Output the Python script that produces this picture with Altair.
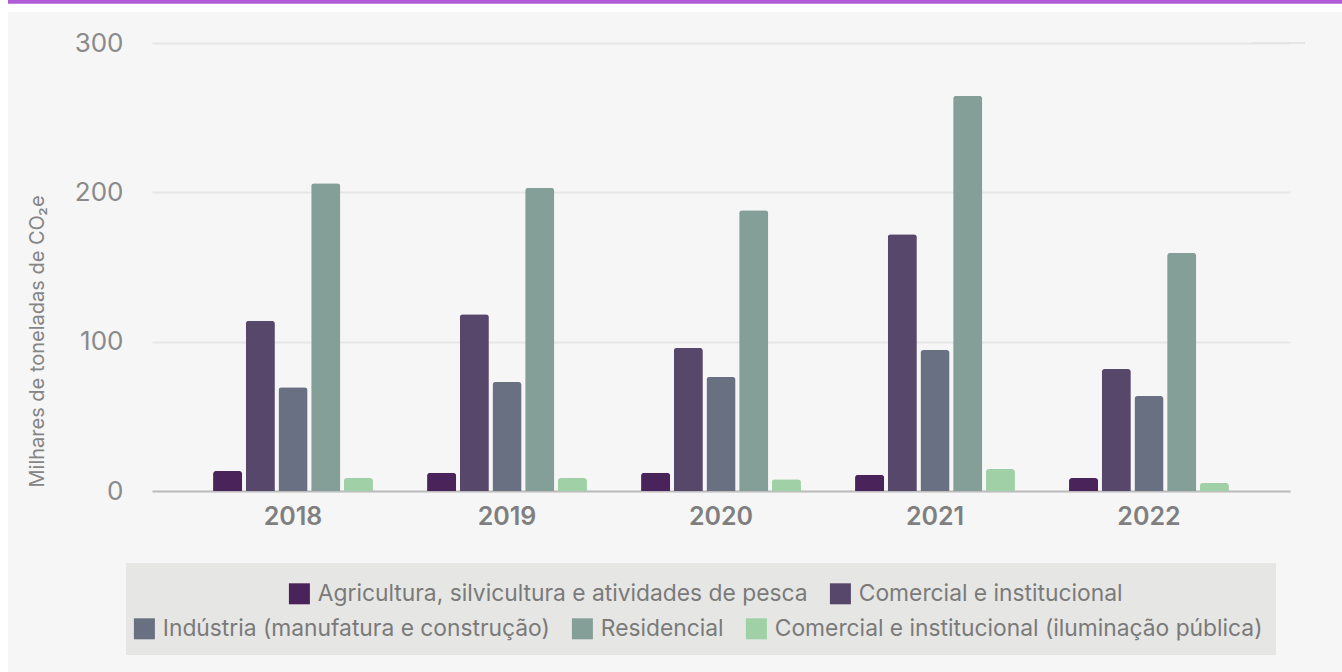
import altair as alt
import pandas as pd

years = ["2018", "2019", "2020", "2021", "2022"]
categories = [
    "Agricultura, silvicultura e atividades de pesca",
    "Comercial e institucional",
    "Indústria (manufatura e construção)",
    "Residencial",
    "Comercial e institucional (iluminação pública)",
]
colors = ["#4A235A", "#56476B", "#687082", "#849F97", "#A0D1A6"]
agricultura = [13.4, 12.3, 12.3, 10.9, 8.7]
comercial = [114, 118.3, 95.8, 172, 81.7]
industria = [69.4, 73, 76.4, 94.4, 63.6]
residencial = [206, 203, 188, 264.6, 159.4]
iluminacao = [8.7, 8.7, 7.8, 14.7, 5.4]
y_ticks = [0, 100, 200, 300]

series = [agricultura, comercial, industria, residencial, iluminacao]
rows = []
for cat, vals in zip(categories, series):
    for y, v in zip(years, vals):
        rows.append({"ano": y, "setor": cat, "valor": v})
df = pd.DataFrame(rows)

FONT = "Inter"
W, H = 1138, 448

x_enc = alt.X("ano:N", sort=years,
              scale=alt.Scale(paddingInner=0, paddingOuter=0.159),
              axis=alt.Axis(title=None, labelAngle=0, labelFontSize=25, labelFontWeight=600,
                            labelColor="#7f7f7f", labelFont=FONT, labelPadding=13,
                            ticks=False, domain=True, domainColor="#bdbdbd",
                            domainWidth=2, grid=False))
xo_enc = alt.XOffset("setor:N", sort=categories,
                     scale=alt.Scale(domain=categories, paddingInner=0.11, paddingOuter=0.827))
y_scale = alt.Scale(domain=[0, 300], nice=False)
y_enc = alt.Y("valor:Q", scale=y_scale,
              axis=alt.Axis(values=y_ticks, title="Milhares de toneladas de CO₂e",
                            titleFont=FONT, titleFontSize=20, titleFontWeight="normal",
                            titleColor="#858585", titleAngle=-90, titleX=-115, titleY=444,
                            titleAlign="left", titleBaseline="middle",
                            labelFont=FONT, labelFontSize=26, labelColor="#8a8a8a",
                            labelPadding=29, ticks=False, domain=False,
                            grid=True, gridColor="#e6e6e6", gridWidth=2))

def legend(x, y):
    return alt.Legend(title=None, orient="none", legendX=x, legendY=y, direction="horizontal",
                      symbolType="square", symbolSize=441, symbolStrokeWidth=0,
                      symbolOpacity=1, labelFont=FONT, labelFontSize=22.8,
                      labelColor="#7a7a7a", labelOffset=7, columnPadding=21,
                      padding=0, labelLimit=700)

grp1 = categories[:2]
grp2 = categories[2:]

bars1 = alt.Chart(df).transform_filter(
    alt.FieldOneOfPredicate(field="setor", oneOf=grp1)
).mark_bar(cornerRadiusTopLeft=3, cornerRadiusTopRight=3).encode(
    x=x_enc, xOffset=xo_enc, y=y_enc,
    color=alt.Color("setor:N", sort=grp1,
                    scale=alt.Scale(domain=grp1, range=colors[:2]),
                    legend=legend(136, 539)),
)
bars2 = alt.Chart(df).transform_filter(
    alt.FieldOneOfPredicate(field="setor", oneOf=grp2)
).mark_bar(cornerRadiusTopLeft=3, cornerRadiusTopRight=3).encode(
    x=x_enc, xOffset=xo_enc, y=y_enc,
    color=alt.Color("setor:N", sort=grp2,
                    scale=alt.Scale(domain=grp2, range=colors[2:]),
                    legend=legend(-19, 574)),
)

one = pd.DataFrame({"k": [0]})
top_grid = alt.Chart(pd.DataFrame({"v": [y_ticks[-1]]})).mark_rule(
    color="#e6e6e6", strokeWidth=2
).encode(y=alt.Y("v:Q", scale=y_scale), x=alt.value(1100), x2=alt.value(1153))
legend_box = alt.Chart(one).mark_rect(color="#e6e6e4").encode(
    x=alt.value(-26), x2=alt.value(1124), y=alt.value(520), y2=alt.value(612))
white_left = alt.Chart(one).mark_rect(color="white").encode(
    x=alt.value(-152), x2=alt.value(-144), y=alt.value(-43), y2=alt.value(629))
white_top = alt.Chart(one).mark_rect(color="white").encode(
    x=alt.value(-152), x2=alt.value(1190), y=alt.value(-43), y2=alt.value(-31))
purple = alt.Chart(one).mark_rect(color="#b05cd6").encode(
    x=alt.value(-144), x2=alt.value(1190), y=alt.value(-43), y2=alt.value(-39.3))

chart = alt.layer(legend_box, white_left, white_top, purple, top_grid, bars1, bars2).resolve_scale(
    color="independent"
).properties(
    width=W, height=H,
    autosize=alt.AutoSizeParams(type="none"),
    padding={"left": 152, "top": 43, "right": 52, "bottom": 181},
    background="#f6f6f6",
).configure_view(stroke=None)

chart.save("out.html", embed_options={"renderer": "svg", "actions": False})
